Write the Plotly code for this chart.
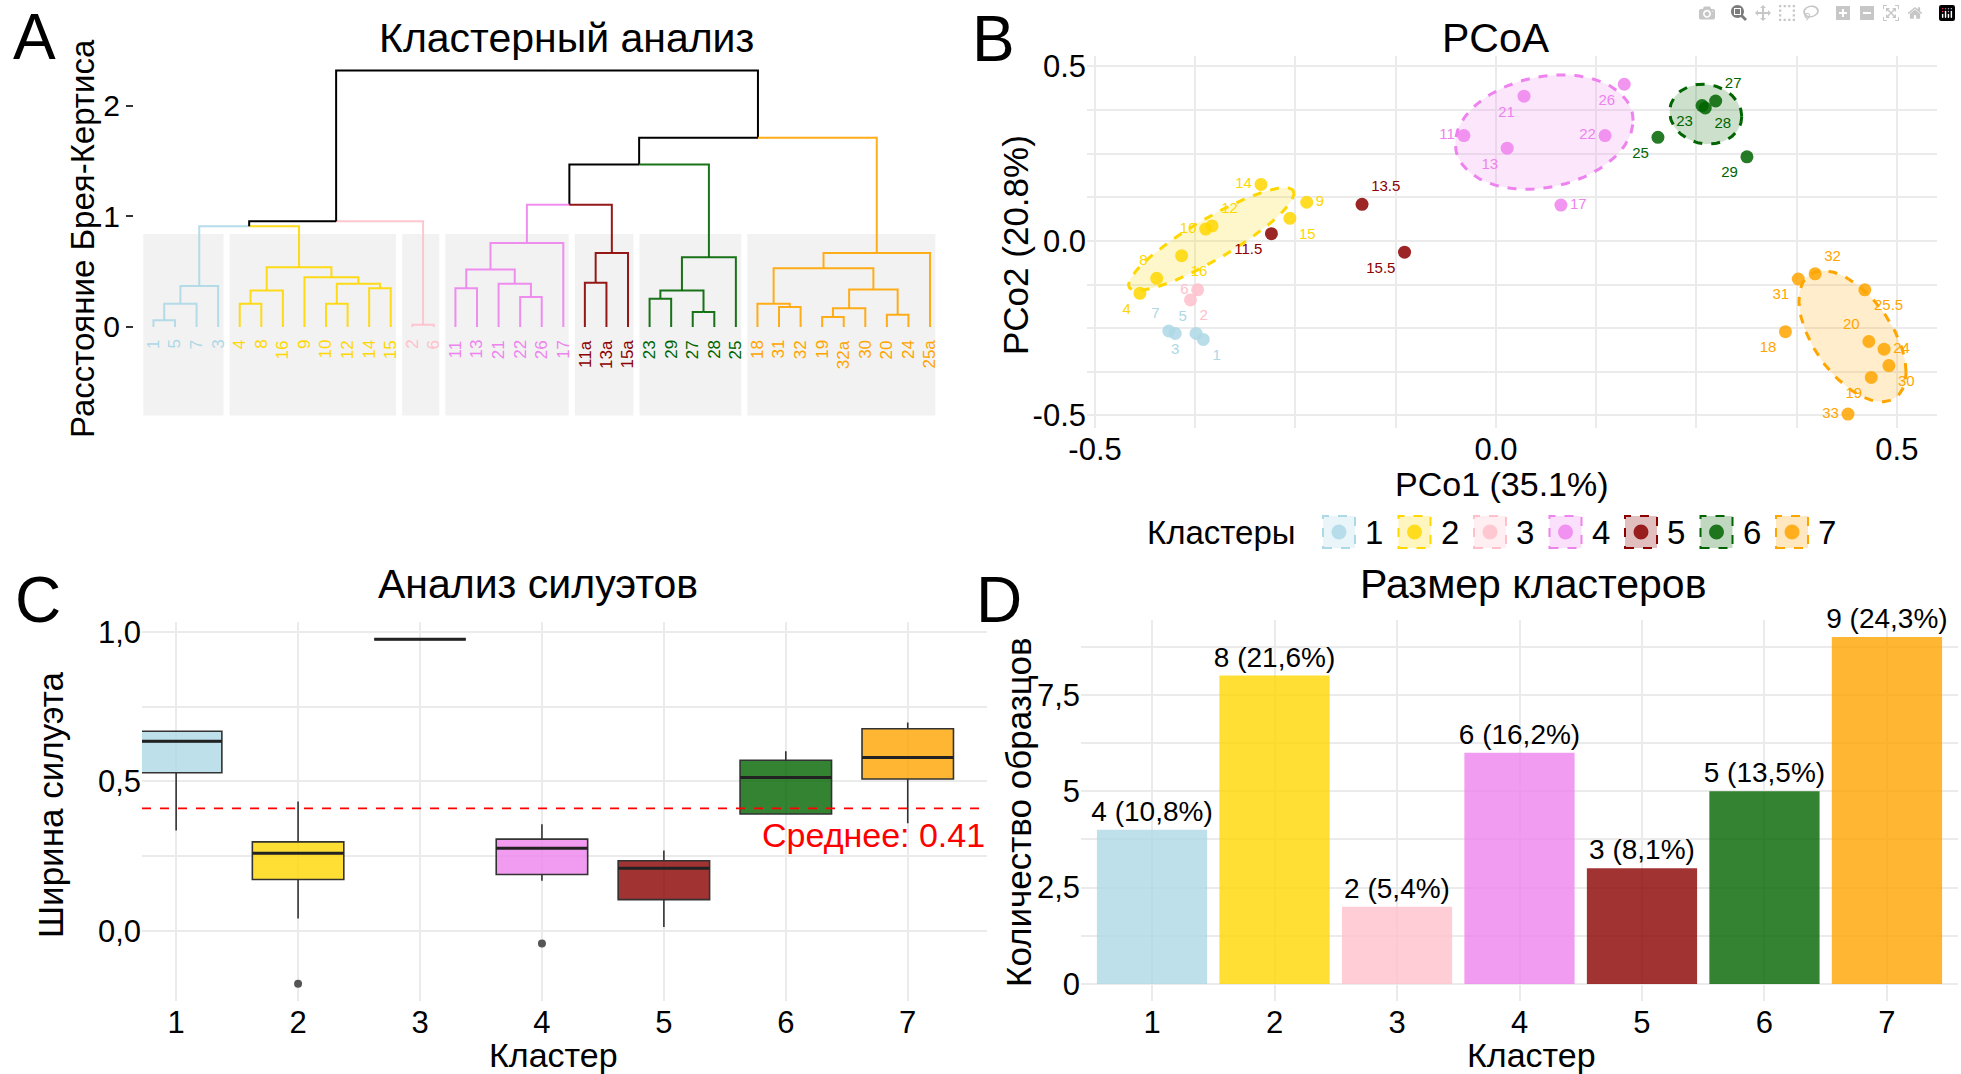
import numpy as np
import plotly.graph_objects as go

W, H = 1961, 1074
FONT = "Liberation Sans"
GRID = "#EBEBEB"


def px(x):
    return x / W


def py(y):
    return 1 - y / H


def rgba(hex_color, a):
    h = hex_color.lstrip("#")
    r, g, b = int(h[0:2], 16), int(h[2:4], 16), int(h[4:6], 16)
    return f"rgba({r},{g},{b},{a})"


# ---- clusters (shared by all panels)
cluster_ids = [1, 2, 3, 4, 5, 6, 7]
cluster_sizes = [4, 8, 2, 6, 3, 5, 9]
cluster_colors = ["#ADD8E6", "#FFD700", "#FFC0CB", "#EE82EE", "#8B0000", "#006400", "#FFA500"]

# ---- A: dendrogram, leaves in plotted order
leaf_labels = ["1", "5", "7", "3",
               "4", "8", "16", "9", "10", "12", "14", "15",
               "2", "6",
               "11", "13", "21", "22", "26", "17",
               "11a", "13a", "15a",
               "23", "29", "27", "28", "25",
               "18", "31", "32", "19", "32a", "30", "20", "24", "25a"]

# merges: (node name, left child, right child, height)
merges = [
    ("b1", "1", "5", 0.06), ("b2", "b1", "7", 0.21), ("b3", "b2", "3", 0.37),
    ("y1", "4", "8", 0.21), ("y2", "y1", "16", 0.33), ("y3", "10", "12", 0.21),
    ("y4", "14", "15", 0.35), ("y5", "y3", "y4", 0.39), ("y6", "9", "y5", 0.45),
    ("y7", "y2", "y6", 0.54), ("by", "b3", "y7", 0.91),
    ("p1", "2", "6", 0.02), ("left", "by", "p1", 0.955),
    ("v1", "11", "13", 0.35), ("v2", "22", "26", 0.27), ("v3", "21", "v2", 0.39),
    ("v4", "v1", "v3", 0.52), ("v5", "v4", "17", 0.76),
    ("r1", "11a", "13a", 0.40), ("r2", "r1", "15a", 0.67), ("vr", "v5", "r2", 1.105),
    ("g1", "23", "29", 0.256), ("g2", "27", "28", 0.136), ("g3", "g1", "g2", 0.33),
    ("g4", "g3", "25", 0.63), ("vrg", "vr", "g4", 1.47),
    ("o1", "31", "32", 0.18), ("o2", "18", "o1", 0.21), ("o3", "19", "32a", 0.09),
    ("o4", "o3", "30", 0.17), ("o5", "20", "24", 0.11), ("o6", "o4", "o5", 0.34),
    ("o7", "o2", "o6", 0.53), ("o8", "o7", "25a", 0.67),
    ("right", "vrg", "o8", 1.71), ("root", "left", "right", 2.32),
]

# ---- B: PCoA
pcoa_labels = ["1", "3", "5", "7",
               "4", "8", "16", "10", "12", "14", "15", "9",
               "2", "6",
               "11", "13", "21", "22", "26", "17",
               "11.5", "13.5", "15.5",
               "23", "28", "27", "25", "29",
               "31", "32", "25.5", "18", "20", "24", "30", "19", "33"]
pcoa_x = [-0.365, -0.400, -0.374, -0.408,
          -0.444, -0.423, -0.392, -0.362, -0.354, -0.293, -0.257, -0.236,
          -0.381, -0.372,
          -0.040, 0.014, 0.035, 0.136, 0.160, 0.081,
          -0.280, -0.167, -0.114,
          0.257, 0.261, 0.274, 0.202, 0.313,
          0.377, 0.398, 0.460, 0.361, 0.465, 0.484, 0.490, 0.468, 0.439]
pcoa_y = [-0.282, -0.265, -0.265, -0.258,
          -0.150, -0.107, -0.042, 0.034, 0.043, 0.162, 0.065, 0.111,
          -0.169, -0.140,
          0.302, 0.266, 0.415, 0.302, 0.449, 0.103,
          0.021, 0.105, -0.032,
          0.388, 0.381, 0.401, 0.297, 0.241,
          -0.109, -0.094, -0.140, -0.260, -0.288, -0.310, -0.357, -0.391, -0.496]
pcoa_cluster = np.repeat(cluster_ids, cluster_sizes)
ellipse_clusters = [2, 4, 6, 7]
ellipse_level = 0.65

# label placement around each point (style only)
label_side = {
    "1": "bottom right", "3": "bottom center", "5": "top left", "7": "top left",
    "4": "bottom left", "8": "top left", "16": "bottom right", "10": "middle left",
    "12": "top right", "14": "middle left", "15": "bottom right", "9": "middle right",
    "2": "bottom right", "6": "middle left",
    "11": "middle left", "13": "bottom left", "21": "bottom left", "22": "middle left",
    "26": "bottom left", "17": "middle right",
    "11.5": "bottom left", "13.5": "top right", "15.5": "bottom left",
    "23": "bottom left", "28": "bottom right", "27": "top right", "25": "bottom left",
    "29": "bottom left",
    "31": "bottom left", "32": "top right", "25.5": "bottom right", "18": "bottom left",
    "20": "top left", "24": "middle right", "30": "bottom right", "19": "bottom left",
    "33": "middle left",
}

# ---- C: silhouette widths (box statistics)
sil_q1 = [0.529, 0.172, 0.975, 0.189, 0.105, 0.391, 0.508]
sil_median = [0.634, 0.260, 0.975, 0.277, 0.210, 0.513, 0.580]
sil_q3 = [0.668, 0.298, 0.975, 0.307, 0.235, 0.571, 0.676]
sil_lower = [0.336, 0.042, 0.975, 0.168, 0.013, 0.391, 0.360]
sil_upper = [0.668, 0.433, 0.975, 0.357, 0.269, 0.601, 0.697]
sil_outlier_cluster = [2, 4]
sil_outlier_value = [-0.176, -0.042]
sil_mean = 0.41

# ---- D: cluster sizes are cluster_sizes
total = sum(cluster_sizes)
size_text = [f"{n} ({n / total * 100:.1f}%)".replace(".", ",") for n in cluster_sizes]

color_of = dict(zip(cluster_ids, cluster_colors))
fig = go.Figure()
shapes = []
annotations = []

# ================= A: dendrogram =================
pos = {lab: i for i, lab in enumerate(leaf_labels)}
hgt = {lab: 0.0 for lab in leaf_labels}
leaf_cl = np.repeat(cluster_ids, cluster_sizes)
clus = {lab: int(c) for lab, c in zip(leaf_labels, leaf_cl)}
segs = {}
for name, l, r, h in merges:
    xm = (pos[l] + pos[r]) / 2
    for c in (l, r):
        key = clus[c]
        sx, sy = segs.setdefault(key, ([], []))
        sx += [xm, pos[c], pos[c], None]
        sy += [h, h, hgt[c], None]
    pos[name], hgt[name] = xm, h
    clus[name] = clus[l] if clus[l] == clus[r] else None

for key, (sx, sy) in segs.items():
    col = "black" if key is None else rgba(color_of[key], 0.9)
    fig.add_trace(go.Scatter(x=sx, y=sy, mode="lines", line=dict(color=col, width=2),
                             xaxis="x", yaxis="y", showlegend=False, hoverinfo="skip"))

start = 0
for cid, n in zip(cluster_ids, cluster_sizes):
    shapes.append(dict(type="rect", xref="x", yref="y", x0=start - 0.47, x1=start + n - 1 + 0.25,
                       y0=-0.8, y1=0.84, fillcolor="#F2F2F2", line=dict(width=0), layer="below"))
    start += n
for lab, c in zip(leaf_labels, leaf_cl):
    annotations.append(dict(x=pos[lab], y=-0.1, xref="x", yref="y", text=lab, showarrow=False,
                            textangle=-90, xanchor="center", yanchor="top",
                            font=dict(size=17, color=color_of[int(c)], family=FONT)))


# ================= B: PCoA =================
def cov_trob(pts, nu=5, maxit=25, tol=0.01):
    # robust (multivariate t) location/scatter, as MASS::cov.trob
    n, p = pts.shape
    loc = pts.mean(axis=0)
    w = np.ones(n)
    for _ in range(maxit):
        w0 = w
        X = pts - loc
        S = (X * (w / w.sum())[:, None]).T @ X
        Q = np.einsum("ij,jk,ik->i", X, np.linalg.inv(S), X)
        w = (nu + p) / (nu + Q)
        loc = (w[:, None] * pts).sum(axis=0) / w.sum()
        if np.all(np.abs(w - w0) < tol):
            break
    cov = (X * w[:, None]).T @ X / n
    return loc, cov


px_arr = np.array(pcoa_x)
py_arr = np.array(pcoa_y)
theta = np.linspace(0, 2 * np.pi, 120)
circle = np.vstack([np.cos(theta), np.sin(theta)])
for cid in ellipse_clusters:
    m = pcoa_cluster == cid
    pts = np.column_stack([px_arr[m], py_arr[m]])
    loc, cov = cov_trob(pts)
    d = len(pts) - 1
    fq = d / 2 * ((1 - ellipse_level) ** (-2 / d) - 1)   # qf(level, 2, d)
    radius = np.sqrt(2 * fq)
    ell = loc[:, None] + radius * np.linalg.cholesky(cov) @ circle
    fig.add_trace(go.Scatter(x=ell[0], y=ell[1], mode="lines", fill="toself",
                             fillcolor=rgba(color_of[cid], 0.2),
                             line=dict(color=color_of[cid], width=3, dash="dash"),
                             xaxis="x2", yaxis="y2", showlegend=False, hoverinfo="skip"))

for cid in cluster_ids:
    m = pcoa_cluster == cid
    labs = [l for l, k in zip(pcoa_labels, m) if k]
    fig.add_trace(go.Scatter(
        x=px_arr[m], y=py_arr[m], mode="markers+text", text=labs,
        textposition=[label_side[l] for l in labs],
        textfont=dict(size=15, color=color_of[cid], family=FONT),
        marker=dict(size=13, color=rgba(color_of[cid], 0.85)),
        xaxis="x2", yaxis="y2", showlegend=False, hoverinfo="skip"))

# legend row drawn by hand: dashed key box with a point, then the cluster number
annotations.append(dict(x=px(1221), y=py(532), xref="paper", yref="paper", text="Кластеры",
                        showarrow=False, xanchor="center", yanchor="middle",
                        font=dict(size=33, color="black", family=FONT)))
for i, cid in enumerate(cluster_ids):
    cx, cy = 1339 + 75.5 * i, 532
    shapes.append(dict(type="rect", xref="paper", yref="paper",
                       x0=px(cx - 16), x1=px(cx + 16), y0=py(cy + 16), y1=py(cy - 16),
                       fillcolor=rgba(color_of[cid], 0.25),
                       line=dict(color=color_of[cid], width=2, dash="dash")))
    shapes.append(dict(type="circle", xref="paper", yref="paper",
                       x0=px(cx - 7.5), x1=px(cx + 7.5), y0=py(cy + 7.5), y1=py(cy - 7.5),
                       fillcolor=rgba(color_of[cid], 0.85), line=dict(width=0)))
    annotations.append(dict(x=px(cx + 24), y=py(cy), xref="paper", yref="paper", text=str(cid),
                            showarrow=False, xanchor="left", yanchor="middle",
                            font=dict(size=33, color="black", family=FONT)))

# ================= C: silhouettes =================
box_w = 0.75
for i, cid in enumerate(cluster_ids):
    fig.add_trace(go.Box(
        x=[cid], q1=[sil_q1[i]], median=[sil_median[i]], q3=[sil_q3[i]],
        lowerfence=[sil_lower[i]], upperfence=[sil_upper[i]],
        width=box_w, whiskerwidth=0, boxpoints=False,
        fillcolor=rgba(color_of[cid], 0.8), line=dict(color="#333333", width=1.6),
        xaxis="x3", yaxis="y3", showlegend=False, hoverinfo="skip"))
# thicker median bars, as ggplot draws them
mx, my = [], []
for cid, med in zip(cluster_ids, sil_median):
    mx += [cid - box_w / 2, cid + box_w / 2, None]
    my += [med, med, None]
fig.add_trace(go.Scatter(x=mx, y=my, mode="lines", line=dict(color="#222222", width=3),
                         xaxis="x3", yaxis="y3", showlegend=False, hoverinfo="skip"))
fig.add_trace(go.Scatter(x=sil_outlier_cluster, y=sil_outlier_value, mode="markers",
                         marker=dict(size=8, color="#555555"),
                         xaxis="x3", yaxis="y3", showlegend=False, hoverinfo="skip"))
shapes.append(dict(type="line", xref="x3 domain", yref="y3", x0=0, x1=1, y0=sil_mean, y1=sil_mean,
                   line=dict(color="red", width=1.6, dash="dash")))
annotations.append(dict(x=1, y=sil_mean - 0.02, xref="x3 domain", yref="y3",
                        text=f"Среднее: {sil_mean:.2f}", showarrow=False,
                        xanchor="right", yanchor="top", font=dict(size=34, color="red", family=FONT)))

# ================= D: sizes =================
fig.add_trace(go.Bar(x=cluster_ids, y=cluster_sizes, width=0.9,
                     marker=dict(color=[rgba(c, 0.8) for c in cluster_colors], line=dict(width=0)),
                     text=size_text, textposition="outside", cliponaxis=False, constraintext="none",
                     textfont=dict(size=28, color="black", family=FONT),
                     xaxis="x4", yaxis="y4", showlegend=False, hoverinfo="skip"))


# ================= titles and labels =================
def label(text, x, y, size, angle=0):
    annotations.append(dict(x=px(x), y=py(y), xref="paper", yref="paper", text=text,
                            showarrow=False, textangle=angle, xanchor="center", yanchor="middle",
                            font=dict(size=size, color="black", family=FONT)))


label("A", 34, 37, 64)
label("B", 993, 39, 64)
label("C", 38, 600, 64)
label("D", 999, 600, 64)
label("Кластерный анализ", 566, 38, 41)
label("PCoA", 1496, 38, 41)
label("Анализ силуэтов", 538, 584, 41)
label("Размер кластеров", 1533, 584, 41)
label("Расстояние Брея-Кертиса", 82, 239, 33, -90)
label("PCo2 (20.8%)", 1016, 245, 35, -90)
label("PCo1 (35.1%)", 1502, 484, 34)
label("Ширина силуэта", 50, 805, 35, -90)
label("Кластер", 553, 1055, 34)
label("Количество образцов", 1018, 812, 35, -90)
label("Кластер", 1531, 1055, 34)

tickfont = dict(size=31, color="black", family=FONT)
grid = dict(showgrid=True, gridcolor=GRID, gridwidth=1.5, zeroline=False, showline=False, ticks="")

fig.update_layout(
    width=W, height=H, margin=dict(l=0, r=0, t=0, b=0, autoexpand=False),
    paper_bgcolor="white", plot_bgcolor="white", showlegend=False,
    font=dict(family=FONT, color="black"),
    shapes=shapes, annotations=annotations,
    xaxis=dict(domain=[px(140.5), px(940.8)], range=[-0.6, 36.5], visible=False),
    yaxis=dict(domain=[py(421), py(56)], range=[-0.85, 2.45], tickvals=[0, 1, 2],
               ticks="outside", ticklen=7, tickcolor="#333333", tickwidth=1.5,
               tickfont=dict(size=30, color="black", family=FONT),
               showgrid=False, zeroline=False, showline=False,
               anchor="free", position=px(133)),
    xaxis2=dict(domain=[px(1087), px(1937)], range=[-0.51, 0.55], anchor="y2",
                tickvals=[-0.5, 0, 0.5], ticktext=["-0.5", "0.0", "0.5"], tickfont=tickfont,
                minor=dict(tickmode="linear", tick0=0, dtick=0.125, showgrid=True,
                           gridcolor=GRID, gridwidth=1.5), **grid),
    yaxis2=dict(domain=[py(427.7), py(56)], range=[-0.535, 0.53], anchor="x2",
                tickvals=[-0.5, 0, 0.5], ticktext=["-0.5", "0.0", "0.5"], tickfont=tickfont,
                minor=dict(tickmode="linear", tick0=0, dtick=0.125, showgrid=True,
                           gridcolor=GRID, gridwidth=1.5), **grid),
    xaxis3=dict(domain=[px(142), px(987)], range=[0.72, 7.65], anchor="y3",
                tickvals=cluster_ids, tickfont=tickfont, **grid),
    yaxis3=dict(domain=[py(1001), py(622)], range=[-0.234, 1.033], anchor="x3",
                tickvals=[0, 0.5, 1.0], ticktext=["0,0", "0,5", "1,0"], tickfont=tickfont,
                minor=dict(tickvals=[0.25, 0.75], showgrid=True, gridcolor=GRID, gridwidth=1.5),
                **grid),
    xaxis4=dict(domain=[px(1081), px(1958)], range=[0.42, 7.58], anchor="y4",
                tickvals=cluster_ids, tickfont=tickfont, **grid),
    yaxis4=dict(domain=[py(1001.3), py(619.7)], range=[-0.45, 9.45], anchor="x4",
                tickvals=[0, 2.5, 5, 7.5], ticktext=["0", "2,5", "5", "7,5"], tickfont=tickfont,
                minor=dict(tickvals=[1.25, 3.75, 6.25, 8.75], showgrid=True, gridcolor=GRID,
                           gridwidth=1.5), **grid),
)

fig.write_html("out.html", post_script="document.body.style.margin='0';")
